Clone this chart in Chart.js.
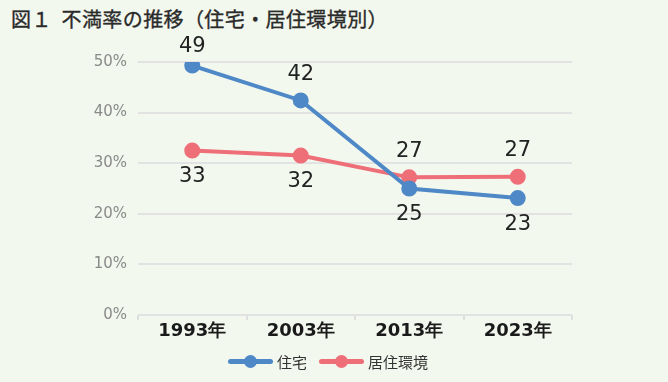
<!DOCTYPE html>
<html lang="ja">
<head>
<meta charset="utf-8">
<script src="https://cdn.jsdelivr.net/npm/chart.js@4"></script>
<style>
  body{margin:0;background:#f3f8ee;font-family:"Noto Sans CJK JP","Noto Sans",sans-serif;}
  #wrap{position:relative;width:668px;height:382px;overflow:hidden;}
  #titulo{position:absolute;left:11px;top:4px;font-size:20px;font-weight:400;color:#2a2a2a;letter-spacing:0.4px;-webkit-text-stroke:0.35px #2a2a2a;}
  #grafica{position:absolute;left:0;top:0;}
  #leyenda{position:absolute;left:0;width:668px;top:351px;text-align:center;font-size:15px;color:#333;}
  .item{display:inline-block;margin:0 12px 0 0;}
  .linea{display:inline-block;position:relative;width:45px;height:5px;border-radius:3px;vertical-align:middle;margin-right:4px;top:-2px;}
  .linea i{position:absolute;left:16px;top:-4px;width:13px;height:13px;border-radius:50%;background:inherit;}
</style>
</head>
<body>
<div id="wrap">
  <div id="titulo">図１&nbsp;&nbsp;不満率の推移（住宅・居住環境別）</div>
  <canvas id="grafica" width="668" height="382"></canvas>
  <div id="leyenda"></div>
</div>
<script>
const anios = ["1993年", "2003年", "2013年", "2023年"];
const vivienda = [49.3, 42.4, 25.0, 23.1];
const entorno = [32.5, 31.5, 27.2, 27.3];
const nombres = ["住宅", "居住環境"];
const colores = ["#4e88c7", "#ee6f78"];
const ticksY = [0, 10, 20, 30, 40, 50];

// etiquetas de datos: arriba si la serie va por encima de la otra
const etiquetas = {
  id: "etiquetas",
  afterDatasetsDraw(chart){
    const ctx = chart.ctx;
    const ds = chart.data.datasets;
    ctx.save();
    ctx.font = "21px 'DejaVu Sans', sans-serif";
    ctx.fillStyle = "#222";
    ctx.textAlign = "center";
    ctx.textBaseline = "middle";
    ds.forEach((d, i) => {
      const otro = ds[1 - i].data;
      chart.getDatasetMeta(i).data.forEach((p, j) => {
        const arriba = d.data[j] >= otro[j];
        let y = arriba ? p.y - 26 : p.y + 26;
        if(y < 47) y = 47;
        ctx.fillText(Math.round(d.data[j]), p.x, y);
      });
    });
    ctx.restore();
  }
};

new Chart(document.getElementById("grafica"), {
  type: "line",
  data: {
    labels: anios,
    datasets: [vivienda, entorno].map((v, i) => ({
      label: nombres[i],
      data: v,
      borderColor: colores[i],
      backgroundColor: colores[i],
      borderWidth: 4,
      pointRadius: 6,
      pointHoverRadius: 6,
      tension: 0
    }))
  },
  options: {
    responsive: false,
    animation: false,
    layout: { padding: { top: 62, right: 96, bottom: 40, left: 0 } },
    plugins: { legend: { display: false }, tooltip: { enabled: false } },
    scales: {
      x: {
        offset: true,
        grid: { display: true, drawOnChartArea: false, drawTicks: true, tickLength: 5, color: "#dedede", lineWidth: 2, offset: true },
        border: { display: false },
        ticks: { color: "#1a1a1a", font: { size: 18, weight: "bold", family: "'DejaVu Sans', sans-serif" }, padding: 1 },
        afterFit: s => { s.height = 27; }
      },
      y: {
        min: 0, max: 50,
        afterBuildTicks: s => { s.ticks = ticksY.map(v => ({ value: v })); },
        grid: { color: "#e2e2e2", lineWidth: 2, drawTicks: false },
        border: { display: false },
        ticks: { color: "#8a8a8a", font: { size: 15, family: "'DejaVu Sans', sans-serif" }, padding: 11, callback: v => v + "%" },
        afterFit: s => { s.width = 138; }
      }
    }
  },
  plugins: [etiquetas]
});

document.getElementById("leyenda").innerHTML = nombres.map((n, i) =>
  `<span class="item"><span class="linea" style="background:${colores[i]}"><i></i></span>${n}</span>`
).join("");
</script>
</body>
</html>
